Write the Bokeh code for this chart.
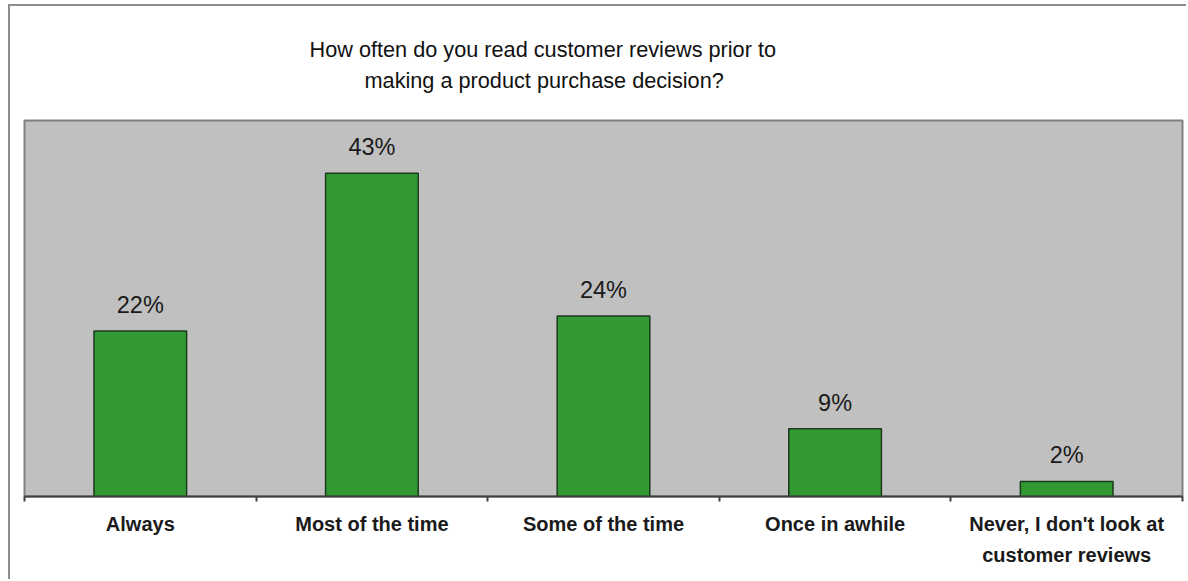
from bokeh.plotting import figure
from bokeh.models import Range1d, FixedTicker, ColumnDataSource, Title
from bokeh.core.properties import value
from bokeh.embed import file_html
from bokeh.resources import INLINE

# ---- data ----
categories = ["Always", "Most of the time", "Some of the time", "Once in awhile",
              "Never, I don't look at\ncustomer reviews"]
values = [22, 43, 24, 9, 2]
value_labels = ["22%", "43%", "24%", "9%", "2%"]
title_lines = ["How often do you read customer reviews prior to",
               "making a product purchase decision?"]

n = len(categories)
centers = [i + 0.5 for i in range(n)]
boundaries = list(range(n + 1))
src = ColumnDataSource(dict(x=centers, top=values, label=value_labels))

FONT = "Liberation Sans"

p = figure(width=1178, height=575, output_backend="svg", toolbar_location=None,
           x_range=Range1d(0, n), y_range=Range1d(0, 50),
           min_border_left=14, min_border_right=6, min_border_top=114, min_border_bottom=85)
p.styles = {"margin-left": "8px", "margin-top": "4px",
            "border-left": "2px solid #8c8c8c", "border-top": "2px solid #8c8c8c"}

# two title lines, left-aligned with offsets so that each is centred near x=544
p.title.visible = False
offsets = [340, 285]          # for line 2 (nearest the plot) then line 1
standoffs = [56, -49]
for line, off, so in zip(reversed(title_lines), offsets, standoffs):
    t = Title(text=line, align="left", text_font=FONT, text_font_size="21.7px",
              text_font_style="normal", text_color="#111111", offset=off,
              standoff=so)
    p.add_layout(t, "above")

p.background_fill_color = "#c0c0c0"
p.border_fill_color = "white"
p.outline_line_color = "#808080"
p.outline_line_width = 2
p.grid.visible = False
p.yaxis.visible = False

# category axis: labels at centres, boundary ticks as minor ticks
xa = p.xaxis[0]
xa.ticker = FixedTicker(ticks=centers, minor_ticks=boundaries)
xa.major_label_overrides = {c: cat for c, cat in zip(centers, categories)}
xa.major_tick_line_color = None
xa.minor_tick_out = 5
xa.minor_tick_in = 0
xa.minor_tick_line_color = "#404040"
xa.minor_tick_line_width = 2
xa.axis_line_color = "#404040"
xa.axis_line_width = 2
xa.major_label_text_font = FONT
xa.major_label_text_font_style = "bold"
xa.major_label_text_font_size = "20px"
xa.major_label_text_color = "#1a1a1a"
xa.major_label_text_line_height = 1.45
xa.major_label_standoff = 10

p.vbar(x="x", top="top", width=0.4, bottom=0, source=src,
       fill_color="#339933", line_color="#1c3a1c", line_width=1.5)

p.text(x="x", y="top", text="label", source=src, y_offset=-26,
       text_align="center", text_baseline="alphabetic",
       text_font=value(FONT), text_font_size="23.5px", text_color="#1a1a1a")

open("out.html", "w").write(file_html(p, INLINE))
